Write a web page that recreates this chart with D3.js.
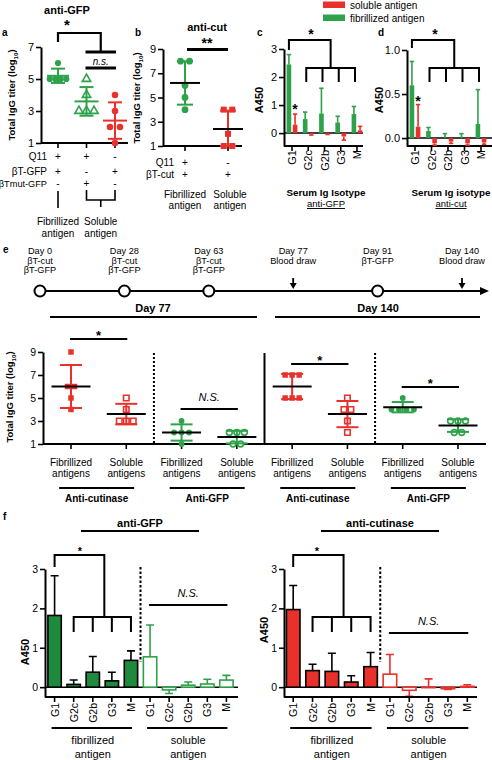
<!DOCTYPE html>
<html><head><meta charset="utf-8">
<script src="https://cdn.jsdelivr.net/npm/d3@7"></script>
<style>body{margin:0;background:#fff}svg{display:block}</style>
</head><body><svg id="chart" width="492" height="760"></svg>
<script>
// ---------------- DATA ----------------
// panel a (anti-GFP titers, log10)
const aCategories = ["fibrillized", "mutant", "soluble"];
const aQ11 = ["+", "+", "-"];
const aBTGFP = ["+", "-", "+"];
const aBTmutGFP = ["-", "+", "-"];
const aFibrillized = [6, 5, 5, 5, 5];
const aMutant = [5, 4, 3, 3, 3];
const aSoluble = [4, 3, 2, 2, 1];
const aTicks = [1, 3, 5, 7];
// panel b (anti-cut titers)
const bCategories = ["fibrillized", "soluble"];
const bQ11 = ["+", "-"];
const bBTcut = ["+", "+"];
const bFibrillized = [8, 8, 6, 5, 4];
const bSoluble = [4, 4, 2, 1, 1];
const bTicks = [1, 3, 5, 7, 9];
// panels c, d (isotypes)
const isotypes = ["G1", "G2c", "G2b", "G3", "M"];
const cFibMean = [2.45, 0.5, 0.7, 0.38, 0.68];
const cFibErr = [0.35, 0.25, 0.9, 0.22, 0.27];
const cSolMean = [0.3, -0.04, -0.03, -0.12, 0.1];
const cSolErr = [0.38, 0.03, 0.02, 0.13, 0.14];
const cTicks = [0, 1, 2, 3];
const dFibMean = [0.6, 0.08, 0, 0, 0.16];
const dFibErr = [0.27, 0.04, 0.05, 0.05, 0.39];
const dSolMean = [0.13, -0.06, -0.04, -0.06, -0.05];
const dSolErr = [0.25, 0.02, 0.02, 0.02, 0.02];
const dTicks = [0, 0.5, 1.0];
// panel e timeline
const eEvents = ["Day 0", "Day 28", "Day 63", "Day 77", "Day 91", "Day 140"];
const eEventLines = [["Day 0", "βT-cut", "βT-GFP"], ["Day 28", "βT-cut", "βT-GFP"], ["Day 63", "βT-cut", "βT-GFP"], ["Day 77", "Blood draw"], ["Day 91", "βT-GFP"], ["Day 140", "Blood draw"]];
const eEventType = ["dose", "dose", "dose", "draw", "dose", "draw"];
// panel e titers
const eGroups = ["d77cutFib", "d77cutSol", "d77gfpFib", "d77gfpSol", "d140cutFib", "d140cutSol", "d140gfpFib", "d140gfpSol"];
const eD77CutFib = [9, 6, 6, 5, 4];
const eD77CutSol = [5, 4, 3, 3, 3];
const eD77GfpFib = [3, 2, 2, 2, 1];
const eD77GfpSol = [2, 2, 2, 1, 1];
const eD140CutFib = [7, 7, 7, 5, 5, 5];
const eD140CutSol = [5, 4, 4, 3, 2];
const eD140GfpFib = [5, 4, 4, 4, 4];
const eD140GfpSol = [3, 3, 3, 2, 2];
const eTicks = [1, 3, 5, 7, 9];
const eXLabels = ["Fibrillized", "Soluble"];
// panel f
const fCategories = ["fG1", "fG2c", "fG2b", "fG3", "fM", "sG1", "sG2c", "sG2b", "sG3", "sM"];
const fGfpMean = [1.82, 0.07, 0.38, 0.16, 0.68, 0.77, -0.07, 0.05, 0.08, 0.18];
const fGfpErr = [1.01, 0.11, 0.40, 0.22, 0.24, 0.81, 0.09, 0.08, 0.12, 0.12];
const fCutMean = [1.97, 0.42, 0.40, 0.13, 0.52, 0.33, -0.08, 0.0, -0.04, 0.02];
const fCutErr = [0.61, 0.16, 0.46, 0.16, 0.36, 0.50, 0.15, 0.21, 0.02, 0.04];
const fTicks = [0, 1, 2, 3];

// ---------------- STYLE ----------------
const FONT = '"Liberation Sans", Arial, Helvetica, sans-serif';
const RED = "#e8312b", GREEN = "#2ea24b", DGREEN = "#1e8a3d";
const svg = d3.select("#chart").style("font-family", FONT);
svg.append("rect").attr("width", 492).attr("height", 760).attr("fill", "#fff");

function T(g, x, y, s, o = {}) {
  return g.append("text").attr("x", x).attr("y", y).text(s)
    .attr("text-anchor", o.anchor || "middle").attr("font-size", o.size || 10)
    .attr("font-weight", o.bold ? "bold" : null).attr("font-style", o.italic ? "italic" : null)
    .attr("text-decoration", o.underline ? "underline" : null)
    .attr("fill", o.fill || "#000").attr("font-family", FONT);
}
function L(g, x1, y1, x2, y2, w = 2, c = "#000", dash = null) {
  return g.append("line").attr("x1", x1).attr("y1", y1).attr("x2", x2).attr("y2", y2)
    .attr("stroke", c).attr("stroke-width", w).attr("stroke-dasharray", dash);
}
function P(g, d, w = 2, c = "#000") {
  return g.append("path").attr("d", d).attr("fill", "none").attr("stroke", c).attr("stroke-width", w);
}
function yAxis(g, x, y, ticks, fmt, size = 11) {
  const ax = g.append("g").attr("transform", `translate(${x},0)`)
    .call(d3.axisLeft(y).tickValues(ticks).tickSize(5).tickSizeOuter(0).tickPadding(2).tickFormat(fmt || d3.format("d")));
  ax.attr("font-family", FONT).attr("font-size", size);
  ax.select(".domain").attr("stroke-width", 2);
  ax.selectAll(".tick line").attr("stroke-width", 1.6);
  ax.selectAll(".tick text").attr("fill", "#000");
  return ax;
}
function xBase(g, x0, x1, yb, xs, keys) {
  L(g, x0, yb, x1, yb, 2);
  g.selectAll(null).data(keys).join("line")
    .attr("x1", d => xs(d)).attr("x2", d => xs(d)).attr("y1", yb).attr("y2", yb + 5)
    .attr("stroke", "#000").attr("stroke-width", 1.6);
}
function titerLabel(g, x, y, size) {
  const t = g.append("text").attr("transform", `translate(${x},${y}) rotate(-90)`)
    .attr("text-anchor", "middle").attr("font-weight", "bold").attr("font-size", size).attr("font-family", FONT);
  t.append("tspan").text("Total IgG titer (log");
  t.append("tspan").attr("font-size", size * 0.65).attr("dy", size * 0.3).text("10");
  t.append("tspan").attr("dy", -size * 0.3).text(")");
}
function rotLabel(g, x, y, s, size = 11, bold = false) {
  return g.append("text").attr("transform", `translate(${x},${y}) rotate(-90)`)
    .attr("text-anchor", "middle").attr("font-size", size).attr("font-weight", bold ? "bold" : null)
    .attr("font-family", FONT).text(s);
}
// dot plot with mean +/- SD
function dots(g, cx, y, vals, o) {
  const counts = d3.rollup(vals, v => v.length, v => v);
  const pts = [];
  counts.forEach((k, v) => { for (let i = 0; i < k; i++) pts.push({ v, dx: (i - (k - 1) / 2) * o.spacing }); });
  g.selectAll(null).data(pts).join("path")
    .attr("d", d3.symbol().type(o.shape).size(o.size))
    .attr("transform", d => `translate(${cx + d.dx},${y(d.v)})`)
    .attr("fill", o.filled ? o.color : "#fff")
    .attr("stroke", o.filled ? "none" : o.color).attr("stroke-width", 1.6);
  const m = d3.mean(vals), sd = d3.deviation(vals);
  const [lo, hi] = y.domain();
  const top = Math.min(m + sd, hi), bot = Math.max(m - sd, lo);
  L(g, cx, y(top), cx, y(bot), 2, o.color);
  L(g, cx - o.capW, y(top), cx + o.capW, y(top), 2, o.color);
  L(g, cx - o.capW, y(bot), cx + o.capW, y(bot), 2, o.color);
  L(g, cx - o.meanW, y(m), cx + o.meanW, y(m), 2, o.meanColor || o.color);
}

// ================= PANEL A =================
{
  const g = svg.append("g");
  const y = d3.scaleLinear().domain([1, 7]).range([143, 47]);
  const x = d3.scalePoint().domain(aCategories).range([58, 115]);
  T(g, 2, 36, "a", { anchor: "start", bold: true, size: 10 });
  T(g, 67, 14, "anti-GFP", { bold: true, size: 11 });
  titerLabel(g, 15, 95, 9.5);
  yAxis(g, 41, y, aTicks);
  xBase(g, 41, 128, 143, x, aCategories);
  dots(g, x("fibrillized"), y, aFibrillized, { shape: d3.symbolCircle, size: 30, filled: true, color: GREEN, spacing: 5.5, capW: 7, meanW: 11 });
  dots(g, x("mutant"), y, aMutant, { shape: d3.symbolTriangle, size: 30, filled: false, color: GREEN, spacing: 7.5, capW: 7, meanW: 12 });
  dots(g, x("soluble"), y, aSoluble, { shape: d3.symbolCircle, size: 34, filled: true, color: RED, spacing: 10, capW: 7, meanW: 12 });
  // significance
  const xf = x("fibrillized"), xm = x("mutant"), xs = x("soluble"), mid = (xm + xs) / 2;
  T(g, 67, 30, "*", { bold: true, size: 15 });
  P(g, `M${xf},42V33H${mid}V52`, 2.2);
  L(g, xm - 1, 52, xs + 1, 52, 3);
  T(g, mid, 65, "n.s.", { italic: true, size: 10 });
  L(g, xm - 1, 68, xs + 1, 68, 3);
  // table
  const rows = [["Q11", aQ11, 160, 10], ["βT-GFP", aBTGFP, 174.5, 10], ["βTmut-GFP", aBTmutGFP, 187, 9.2]];
  rows.forEach(([lab, vals, yy, fs]) => {
    T(g, 47, yy, lab, { anchor: "end", size: fs });
    vals.forEach((v, i) => T(g, x(aCategories[i]), yy, v, { size: 10 }));
  });
  L(g, xf, 191, xf, 208, 1.6);
  P(g, `M${xm},190V200H${xs}V190M${mid},200V207`, 1.6);
  T(g, xf, 225, "Fibrillized", { size: 10 }); T(g, xf, 237, "antigen", { size: 10 });
  T(g, mid, 225, "Soluble", { size: 10 }); T(g, mid, 237, "antigen", { size: 10 });
}

// ================= PANEL B =================
{
  const g = svg.append("g");
  const y = d3.scaleLinear().domain([1, 9]).range([146, 49]);
  const x = d3.scalePoint().domain(bCategories).range([185, 228]);
  T(g, 135, 36, "b", { anchor: "start", bold: true, size: 10 });
  T(g, 207, 31, "anti-cut", { bold: true, size: 11 });
  titerLabel(g, 140, 98, 9.5);
  yAxis(g, 163, y, bTicks);
  xBase(g, 163, 242, 146, x, bCategories);
  dots(g, x("fibrillized"), y, bFibrillized, { shape: d3.symbolCircle, size: 36, filled: true, color: GREEN, spacing: 9, capW: 8, meanW: 15, meanColor: "#000" });
  dots(g, x("soluble"), y, bSoluble, { shape: d3.symbolSquare, size: 36, filled: true, color: RED, spacing: 8.5, capW: 8, meanW: 15, meanColor: "#000" });
  T(g, 207, 48, "**", { bold: true, size: 14 });
  L(g, x("fibrillized") + 2, 49.5, x("soluble"), 49.5, 3);
  T(g, 174, 166, "Q11", { anchor: "end", size: 10 });
  T(g, 174, 178, "βT-cut", { anchor: "end", size: 10 });
  bCategories.forEach((c, i) => { T(g, x(c), 166, bQ11[i], { size: 10 }); T(g, x(c), 178, bBTcut[i], { size: 10 }); });
  T(g, x("fibrillized"), 198, "Fibrillized", { size: 10 }); T(g, x("fibrillized"), 209, "antigen", { size: 10 });
  T(g, x("soluble") + 2, 198, "Soluble", { size: 10 }); T(g, x("soluble") + 2, 209, "antigen", { size: 10 });
}

// ================= LEGEND c/d =================
{
  const g = svg.append("g");
  g.append("rect").attr("x", 323).attr("y", 1.5).attr("width", 22).attr("height", 6.5).attr("fill", RED);
  g.append("rect").attr("x", 323).attr("y", 14.5).attr("width", 22).attr("height", 6.5).attr("fill", GREEN);
  T(g, 350, 8.5, "soluble antigen", { anchor: "start", size: 10 });
  T(g, 350, 21.5, "fibrillized antigen", { anchor: "start", size: 10 });
}

// ================= PANELS C & D =================
function isoPanel(o) {
  const g = svg.append("g");
  const y = d3.scaleLinear().domain(o.ydom).range([146, o.yTop]);
  const x = d3.scalePoint().domain(isotypes).range(o.xr);
  const sub = d3.scaleBand().domain(["fib", "sol"]).range([-6, 6]).paddingInner(0.25).paddingOuter(0.1);
  T(g, o.lx, 36, o.letter, { anchor: "start", bold: true, size: 10 });
  rotLabel(g, o.ylx, 100, "A450", 11, true);
  yAxis(g, o.ax, y, o.ticks, o.fmt);
  L(g, o.ax, y(0), o.xEnd, y(0), 1.5);
  xBase(g, o.ax, o.xEnd, 146, x, isotypes);
  const series = [["fib", o.fibMean, o.fibErr, GREEN], ["sol", o.solMean, o.solErr, RED]];
  series.forEach(([key, means, errs, col]) => {
    const data = means.map((m, i) => ({ cat: isotypes[i], m, e: m >= 0 ? m + errs[i] : m - errs[i] }));
    const w = sub.bandwidth();
    g.selectAll(null).data(data).join("rect")
      .attr("x", d => x(d.cat) + sub(key)).attr("width", w)
      .attr("y", d => y(Math.max(d.m, 0))).attr("height", d => Math.abs(y(d.m) - y(0)))
      .attr("fill", col);
    g.selectAll(null).data(data).join("line")
      .attr("x1", d => x(d.cat) + sub(key) + w / 2).attr("x2", d => x(d.cat) + sub(key) + w / 2)
      .attr("y1", d => y(d.m)).attr("y2", d => y(d.e)).attr("stroke", col).attr("stroke-width", 1.6);
    g.selectAll(null).data(data).join("line")
      .attr("x1", d => x(d.cat) + sub(key) + w / 2 - 2.2).attr("x2", d => x(d.cat) + sub(key) + w / 2 + 2.2)
      .attr("y1", d => y(d.e)).attr("y2", d => y(d.e)).attr("stroke", col).attr("stroke-width", 1.6);
  });
  isotypes.forEach(c => rotLabel(g, 0, 0, c, 11).attr("text-anchor", "end")
    .attr("transform", `translate(${x(c) + 4},150) rotate(-90)`));
  // brackets
  const gx = isotypes.slice(1).map(c => x(c) - 2);
  const g1x = x("G1") + sub("fib") + sub.bandwidth() / 2;
  const jx = (gx[0] + gx[3]) / 2;
  P(g, `M${g1x},${o.g1y}V40H${jx}V68`, 2);
  P(g, `M${gx[0]},82V68H${gx[3]}V82` + gx.slice(1, 3).map(v => `M${v},68V82`).join(""), 2);
  T(g, o.starX, 39, "*", { bold: true, size: 14 });
  T(g, x("G1") + sub("sol") + sub.bandwidth() / 2, o.star2y, "*", { bold: true, size: 14 });
  T(g, o.tx, 196, o.title, { bold: true, size: 9.8 });
  T(g, o.tx, 207, o.sub, { size: 9.5, underline: true });
}
isoPanel({ letter: "c", lx: 257, ylx: 263, ydom: [-0.46, 3], yTop: 49, xr: [292, 357], ax: 284, xEnd: 363, ticks: cTicks,
  fibMean: cFibMean, fibErr: cFibErr, solMean: cSolMean, solErr: cSolErr, g1y: 50, starX: 311, star2y: 114,
  tx: 326, title: "Serum Ig Isotype", sub: "anti-GFP" });
isoPanel({ letter: "d", lx: 378, ylx: 383, ydom: [-0.09, 1.0], yTop: 50, xr: [415, 481], ax: 407, xEnd: 492, ticks: dTicks,
  fmt: d3.format(".1f"), fibMean: dFibMean, fibErr: dFibErr, solMean: dSolMean, solErr: dSolErr, g1y: 48, starX: 435, star2y: 106,
  tx: 451, title: "Serum Ig isotype", sub: "anti-cut" });

// ================= PANEL E: timeline =================
{
  const g = svg.append("g");
  T(g, 3, 253, "e", { anchor: "start", bold: true, size: 10 });
  const x = d3.scalePoint().domain(eEvents).range([40, 462]);
  const ty = 291;
  L(g, 37, ty, 482, ty, 2);
  g.append("path").attr("d", `M480,${ty - 4}L489,${ty}L480,${ty + 4}Z`).attr("fill", "#000");
  eEvents.forEach((ev, i) => {
    eEventLines[i].forEach((s, j) => T(g, x(ev), 254 + j * 9.6, s, { size: 9.2 }));
    if (eEventType[i] === "dose") {
      g.append("circle").attr("cx", x(ev)).attr("cy", ty).attr("r", 5.5).attr("fill", "#fff").attr("stroke", "#000").attr("stroke-width", 2);
    } else {
      L(g, x(ev), 278, x(ev), 284, 1.8);
      g.append("path").attr("d", `M${x(ev) - 3.5},283L${x(ev)},289L${x(ev) + 3.5},283Z`).attr("fill", "#000");
    }
  });
}

// ================= PANEL E: titers =================
{
  const g = svg.append("g");
  const y = d3.scaleLinear().domain([1, 9]).range([444, 352]);
  const x = d3.scalePoint().domain(eGroups).range([71, 458]);
  T(g, 153, 312, "Day 77", { bold: true, size: 11 });
  L(g, 50, 317, 257, 317, 2);
  T(g, 378, 312, "Day 140", { bold: true, size: 11 });
  L(g, 275, 317, 480, 317, 2);
  titerLabel(g, 13, 397, 9.5);
  yAxis(g, 43, y, eTicks, null, 10.5);
  xBase(g, 43, 486, 444, x, eGroups);
  const midX = (a, b) => (x(eGroups[a]) + x(eGroups[b])) / 2;
  L(g, midX(1, 2), 353, midX(1, 2), 444, 2, "#000", "2,2");
  L(g, midX(5, 6), 353, midX(5, 6), 444, 2, "#000", "2,2");
  L(g, midX(3, 4), 353, midX(3, 4), 444, 2);
  const sets = [eD77CutFib, eD77CutSol, eD77GfpFib, eD77GfpSol, eD140CutFib, eD140CutSol, eD140GfpFib, eD140GfpSol];
  sets.forEach((vals, i) => {
    const cut = (i % 4) < 2, fib = i % 2 === 0;
    dots(g, x(eGroups[i]), y, vals, {
      shape: cut ? d3.symbolSquare : d3.symbolCircle, size: cut ? 30 : 26, filled: fib,
      color: cut ? RED : GREEN, spacing: cut ? 7 : 7.5, capW: 11, meanW: 19.5, meanColor: "#000"
    });
    T(g, x(eGroups[i]), 465.5, eXLabels[i % 2], { size: 10 });
    T(g, x(eGroups[i]), 477, "antigens", { size: 10 });
  });
  [[0, "Anti-cutinase"], [2, "Anti-GFP"], [4, "Anti-cutinase"], [6, "Anti-GFP"]].forEach(([i, s]) => {
    const m = midX(i, i + 1) - 2;
    L(g, m - 37.5, 488, m + 37.5, 488, 2);
    T(g, m, 502, s, { bold: true, size: 10 });
  });
  // significance
  const sig = (a, b, yy, s, it) => {
    L(g, x(eGroups[a]) - 1, yy, x(eGroups[b]) + 1, yy, 2);
    if (it) T(g, midX(a, b), yy - 8, s, { italic: true, size: 11 });
    else T(g, midX(a, b), yy + 0.5, s, { bold: true, size: 13 });
  };
  sig(0, 1, 339, "*"); sig(2, 3, 409, "N.S.", true); sig(4, 5, 364, "*"); sig(6, 7, 387, "*");
}

// ================= PANEL F =================
function fPanel(o) {
  const g = svg.append("g");
  const y = d3.scaleLinear().domain([-0.25, 3]).range([697, 569]);
  const x = d3.scaleBand().domain(fCategories).range(o.xr).paddingInner(0.3).paddingOuter(0.1);
  const w = x.bandwidth(), c = d => x(d) + w / 2;
  T(g, o.tx, 527, o.title, { bold: true, size: 11 });
  L(g, o.tx - 59, 531, o.tx + 59, 531, 2);
  rotLabel(g, o.ylx, o.yly, "A450", 11, true);
  yAxis(g, o.ax, y, fTicks, null, 10.5);
  L(g, o.ax, y(0), o.xEnd, y(0), 1.5);
  const data = o.mean.map((m, i) => ({ cat: fCategories[i], m, e: m >= 0 ? m + o.err[i] : m - o.err[i], fib: i < 5 }));
  // error bars
  g.selectAll(null).data(data).join("path")
    .attr("d", d => `M${c(d.cat)},${y(d.m)}V${y(d.e)}M${c(d.cat) - 4},${y(d.e)}H${c(d.cat) + 4}`)
    .attr("fill", "none").attr("stroke", d => d.fib ? "#000" : o.color).attr("stroke-width", 1.6);
  g.selectAll(null).data(data).join("rect")
    .attr("x", d => x(d.cat)).attr("width", w)
    .attr("y", d => y(Math.max(d.m, 0))).attr("height", d => Math.max(Math.abs(y(d.m) - y(0)), 0.5))
    .attr("fill", d => d.fib ? o.fill : "#fff").attr("stroke", d => d.fib ? "#000" : o.color).attr("stroke-width", 1.6);
  xBase(g, o.ax, o.xEnd, 697, c, fCategories);
  fCategories.forEach((k, i) => rotLabel(g, 0, 0, isotypes[i % 5], 10.5).attr("text-anchor", "end")
    .attr("transform", `translate(${c(k) + 4},703) rotate(-90)`));
  // dotted separator
  const sep = (c("fM") + c("sG1")) / 2;
  L(g, sep, 567, sep, 662, 2, "#000", "2.5,2");
  // bracket
  const gx = fCategories.slice(1, 5).map(c);
  const jx = (gx[0] + gx[3]) / 2 + 2;
  P(g, `M${c("fG1")},567V555H${jx}V617`, 2);
  P(g, `M${gx[0]},632V617H${gx[3]}V632` + gx.slice(1, 3).map(v => `M${v},617V632`).join(""), 2);
  T(g, o.starX, 555, "*", { bold: true, size: 11 });
  // N.S.
  L(g, c("sG1") - 1, o.nsY, c("sM") + 1, o.nsY, 2);
  T(g, (c("sG1") + c("sM")) / 2, o.nsY - 8, "N.S.", { italic: true, size: 11 });
  // group labels
  [["fG1", "fM", "fibrillized"], ["sG1", "sM", "soluble"]].forEach(([a, b, s]) => {
    L(g, c(a) - 3, 728, c(b) + 1, 728, 2);
    const m = (c(a) + c(b)) / 2;
    T(g, m, 744, s, { size: 11 });
    T(g, m, 758, "antigen", { size: 11 });
  });
}
T(svg, 3, 520, "f", { anchor: "start", bold: true, size: 10 });
fPanel({ title: "anti-GFP", tx: 140, ylx: 29, yly: 652, ax: 45, xEnd: 238, xr: [46, 235], mean: fGfpMean, err: fGfpErr,
  fill: DGREEN, color: GREEN, starX: 80, nsY: 605 });
fPanel({ title: "anti-cutinase", tx: 380, ylx: 268, yly: 630, ax: 284, xEnd: 477, xr: [284.5, 476], mean: fCutMean, err: fCutErr,
  fill: RED, color: RED, starX: 317, nsY: 633 });
</script>
</body></html>
